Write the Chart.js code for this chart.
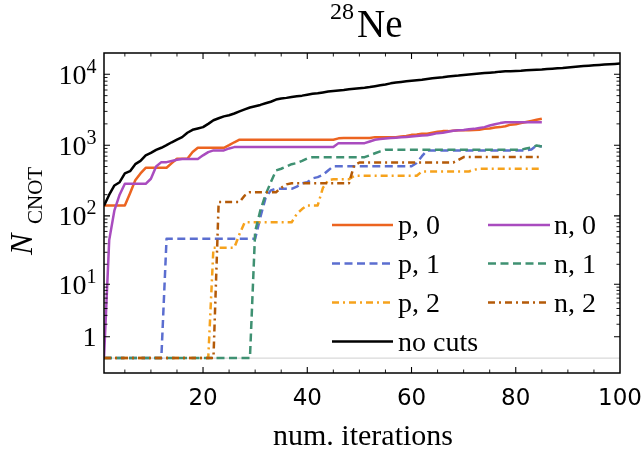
<!DOCTYPE html>
<html>
<head>
<meta charset="utf-8">
<script src="https://cdn.jsdelivr.net/npm/chart.js@4.4.1/dist/chart.umd.min.js"></script>
<style>
  html, body { margin: 0; padding: 0; background: #fff; }
  #wrap { width: 642px; height: 458px; }
</style>
</head>
<body>
<div id="wrap"><canvas id="cnotChart" width="642" height="458"></canvas></div>
<script>
// CNOT counts per iteration for 28Ne, per cut level (p = proton, n = neutron)
const pCut0 = [140, 140, 140, 140, 140, 210, 320, 400, 480, 480, 480, 480, 480, 560, 645, 645, 645, 800, 920, 920,
    920, 920, 920, 920, 1000, 1100, 1195, 1195, 1195, 1195, 1195, 1195, 1195, 1195, 1195, 1195, 1195, 1195, 1195, 1195,
    1195, 1195, 1195, 1195, 1195, 1250, 1260, 1260, 1260, 1260, 1260, 1260, 1300, 1300, 1300, 1300, 1300, 1330, 1350, 1400,
    1420, 1450, 1450, 1500, 1550, 1580, 1580, 1600, 1620, 1620, 1630, 1640, 1650, 1700, 1720, 1780, 1800, 1850, 1950, 1980,
    2050, 2120, 2200, 2280, 2365];
const nCut0 = [0, 45, 120, 200, 285, 285, 285, 285, 285, 336, 500, 577, 577, 600, 623, 640, 640, 640, 640, 720,
    800, 845, 845, 845, 900, 940, 940, 940, 940, 940, 940, 940, 940, 940, 940, 940, 940, 940, 940, 940,
    940, 940, 940, 940, 940, 1070, 1070, 1070, 1070, 1070, 1070, 1130, 1195, 1220, 1240, 1260, 1275, 1290, 1310, 1330,
    1350, 1370, 1380, 1430, 1480, 1500, 1550, 1600, 1620, 1640, 1680, 1700, 1750, 1800, 1900, 1980, 2050, 2100, 2100, 2100,
    2100, 2100, 2100, 2100, 2100];
const pCut1 = [0, 0, 0, 0, 0, 0, 0, 0, 0, 0, 0, 0, 47, 47, 47, 47, 47, 47, 47, 47,
    47, 47, 47, 47, 47, 47, 47, 47, 47, 47, 96, 180, 230, 242, 242, 242, 242, 260, 290, 300,
    340, 354, 380, 440, 505, 505, 505, 505, 505, 505, 505, 505, 505, 505, 505, 505, 505, 505, 505, 505,
    560, 700, 845, 845, 845, 845, 845, 845, 845, 845, 845, 845, 845, 845, 845, 845, 845, 845, 845, 845,
    845, 845, 870, 990, 960];
const nCut1 = [0, 0, 0, 0, 0, 0, 0, 0, 0, 0, 0, 0, 0, 0, 0, 0, 0, 0, 0, 0,
    0, 0, 0, 0, 0, 0, 0, 0, 0, 60, 120, 200, 300, 440, 465, 500, 540, 560, 600, 650,
    678, 678, 678, 678, 678, 678, 678, 678, 678, 678, 678, 720, 770, 820, 864, 864, 864, 864, 864, 864,
    864, 864, 864, 864, 864, 864, 864, 864, 864, 864, 864, 864, 864, 864, 864, 864, 864, 864, 864, 864,
    864, 900, 930, 990, 960];
const pCut2 = [0, 0, 0, 0, 0, 0, 0, 0, 0, 0, 0, 0, 0, 0, 0, 0, 0, 0, 0, 0,
    0, 35, 35, 35, 35, 35, 55, 81, 81, 81, 81, 81, 81, 81, 81, 81, 81, 107, 125, 141,
    141, 141, 250, 320, 330, 330, 330, 330, 370, 370, 370, 370, 370, 370, 370, 370, 370, 370, 370, 370,
    370, 426, 426, 426, 426, 426, 426, 426, 426, 426, 426, 450, 465, 465, 465, 465, 465, 465, 465, 465,
    465, 465, 465, 465, 465];
const nCut2 = [0, 0, 0, 0, 0, 0, 0, 0, 0, 0, 0, 0, 0, 0, 0, 0, 0, 0, 0, 0,
    0, 0, 157, 157, 157, 157, 157, 195, 217, 217, 217, 217, 217, 217, 250, 280, 291, 291, 291, 291,
    291, 291, 291, 291, 291, 291, 291, 291, 520, 570, 570, 570, 570, 570, 570, 570, 570, 570, 570, 570,
    570, 570, 570, 570, 570, 570, 570, 570, 620, 680, 680, 680, 680, 680, 680, 680, 680, 680, 680, 680,
    680, 680, 680, 680, 680];
const noCuts = [140, 200, 270, 300, 400, 430, 540, 600, 720, 780, 860, 920, 1000, 1100, 1200, 1300, 1500, 1650, 1720, 1800,
    2000, 2250, 2400, 2550, 2650, 2800, 3000, 3200, 3400, 3550, 3700, 3900, 4100, 4400, 4550, 4650, 4800, 4900, 5000, 5150,
    5300, 5400, 5550, 5700, 5800, 5900, 6000, 6150, 6250, 6350, 6450, 6600, 6800, 7000, 7200, 7450, 7650, 7800, 7950, 8100,
    8250, 8400, 8600, 8800, 8950, 9100, 9300, 9450, 9600, 9800, 9950, 10100, 10250, 10400, 10550, 10700, 10900, 11000, 11050, 11150,
    11250, 11400, 11500, 11600, 11700, 11850, 12000, 12150, 12300, 12500, 12700, 12900, 13050, 13200, 13400, 13550, 13700, 13850, 14000, 14150];

const xTicksMajor = [20, 40, 60, 80, 100];
const yDecades = [0, 1, 2, 3, 4];   // labels 1, 10^1 ... 10^4

// y axis is log10(1 + N) so that zero counts sit on their own baseline
const ly = v => Math.log10(1 + v);
const toPoints = arr => arr.map((v, i) => ({ x: i + 1, y: ly(v) }));

const DASHED = [8, 4.5];
const DASHDOT = [7, 4, 2, 4];
const SERIF = '"Liberation Serif", "DejaVu Serif", serif';

const series = [
    { label: 'p, 0', data: pCut0, color: '#ec6420', dash: [] },
    { label: 'p, 1', data: pCut1, color: '#5b6ed0', dash: DASHED },
    { label: 'p, 2', data: pCut2, color: '#f6a21c', dash: DASHDOT },
    { label: 'no cuts', data: noCuts, color: '#000000', dash: [] },
    { label: 'n, 0', data: nCut0, color: '#a94cbf', dash: [] },
    { label: 'n, 1', data: nCut1, color: '#3f9172', dash: DASHED },
    { label: 'n, 2', data: nCut2, color: '#b45a08', dash: DASHDOT }
];

// chart.js paints the first dataset last, so reverse to keep the later series on top
const datasets = series.slice().reverse().map(s => ({
    label: s.label,
    data: toPoints(s.data),
    borderColor: s.color,
    borderDash: s.dash,
    borderWidth: 2.5,
    borderJoinStyle: 'round',
    pointRadius: 0,
    tension: 0,
    fill: false
}));

function drawPow(ctx, exp, xRight, yTick) {
    const base = yTick + 9.5;
    ctx.fillStyle = '#000';
    ctx.textBaseline = 'alphabetic';
    ctx.textAlign = 'left';
    if (exp === 0) {
        ctx.font = '28px ' + SERIF;
        const w = ctx.measureText('1').width;
        ctx.fillText('1', xRight - w, base);
        return;
    }
    ctx.font = '28px ' + SERIF;
    const wb = ctx.measureText('10').width;
    ctx.font = '20px ' + SERIF;
    const ws = ctx.measureText(String(exp)).width;
    ctx.font = '28px ' + SERIF;
    ctx.fillText('10', xRight - wb - ws, base);
    ctx.font = '20px ' + SERIF;
    ctx.fillText(String(exp), xRight - ws, base - 11);
}

const framePlugin = {
    id: 'frame',
    beforeDatasetsDraw(chart) {
        const { ctx, chartArea: a, scales: { y } } = chart;
        const y0 = y.getPixelForValue(ly(0));
        ctx.save();
        ctx.strokeStyle = '#cfcfcf';
        ctx.lineWidth = 1;
        ctx.beginPath();
        ctx.moveTo(a.left, y0);
        ctx.lineTo(a.right, y0);
        ctx.stroke();
        ctx.restore();
    },
    afterDraw(chart) {
        const { ctx, chartArea: a, scales: { x, y } } = chart;
        ctx.save();

        // ticks pointing inwards on all four sides
        ctx.strokeStyle = '#000';
        const tick = (px, len, w, vertical) => {
            ctx.lineWidth = w;
            ctx.beginPath();
            if (vertical) {
                ctx.moveTo(px, a.bottom); ctx.lineTo(px, a.bottom - len);
                ctx.moveTo(px, a.top); ctx.lineTo(px, a.top + len);
            } else {
                ctx.moveTo(a.left, px); ctx.lineTo(a.left + len, px);
                ctx.moveTo(a.right, px); ctx.lineTo(a.right - len, px);
            }
            ctx.stroke();
        };
        for (let v = 5; v < 100; v += 5) {
            const major = xTicksMajor.includes(v);
            tick(x.getPixelForValue(v), major ? 6 : 3.5, major ? 1.1 : 0.9, true);
        }
        yDecades.forEach(k => {
            tick(y.getPixelForValue(ly(Math.pow(10, k))), 6, 1.1, false);
            if (k < 4) {
                for (let m = 2; m <= 9; m++) {
                    tick(y.getPixelForValue(ly(m * Math.pow(10, k))), 3.5, 0.9, false);
                }
            }
        });

        // frame
        ctx.lineWidth = 1.5;
        ctx.strokeRect(a.left, a.top, a.right - a.left, a.bottom - a.top);

        // tick labels
        ctx.fillStyle = '#000';
        ctx.font = '23px "DejaVu Sans", sans-serif';
        ctx.textAlign = 'center';
        ctx.textBaseline = 'alphabetic';
        xTicksMajor.forEach(v => ctx.fillText(String(v), x.getPixelForValue(v), 405));
        yDecades.forEach(k => drawPow(ctx, k, a.left - 7.5, y.getPixelForValue(ly(Math.pow(10, k)))));

        // axis titles
        ctx.font = '30px ' + SERIF;
        ctx.textAlign = 'center';
        ctx.fillText('num. iterations', 363, 445);

        ctx.save();
        ctx.translate(31.5, 255);
        ctx.rotate(-Math.PI / 2);
        ctx.textAlign = 'left';
        ctx.font = 'italic 32px ' + SERIF;
        ctx.fillText('N', 0, 0);
        ctx.font = '21px ' + SERIF;
        ctx.fillText('CNOT', 31, 10);
        ctx.restore();

        // title
        ctx.textAlign = 'left';
        ctx.font = '39px ' + SERIF;
        ctx.fillText('Ne', 357, 37);
        ctx.textAlign = 'right';
        ctx.font = '24px ' + SERIF;
        ctx.fillText('28', 354, 19);

        // legend, two columns filled column-wise
        const rows = [225, 263.5, 302.5, 341.5];
        const cols = [{ x0: 332, x1: 393, tx: 398 }, { x0: 488, x1: 550, tx: 554 }];
        series.forEach((s, i) => {
            const c = cols[i < 4 ? 0 : 1];
            const ry = rows[i < 4 ? i : i - 4];
            ctx.strokeStyle = s.color;
            ctx.lineWidth = 2.5;
            ctx.setLineDash(s.dash);
            ctx.beginPath();
            ctx.moveTo(c.x0, ry);
            ctx.lineTo(c.x1, ry);
            ctx.stroke();
            ctx.setLineDash([]);
            ctx.fillStyle = '#000';
            ctx.textAlign = 'left';
            ctx.font = '28px ' + SERIF;
            ctx.fillText(s.label, c.tx, ry + 9);
        });

        ctx.restore();
    }
};

new Chart(document.getElementById('cnotChart'), {
    type: 'line',
    data: { datasets: datasets },
    options: {
        responsive: false,
        animation: false,
        events: [],
        layout: { padding: { left: 104, right: 22, top: 53, bottom: 85 } },
        plugins: {
            legend: { display: false },
            tooltip: { enabled: false },
            title: { display: false }
        },
        scales: {
            x: {
                type: 'linear',
                min: 1,
                max: 100,
                display: false
            },
            y: {
                type: 'linear',
                min: -0.21,
                max: 4.30,
                display: false
            }
        }
    },
    plugins: [framePlugin]
});
</script>
</body>
</html>
